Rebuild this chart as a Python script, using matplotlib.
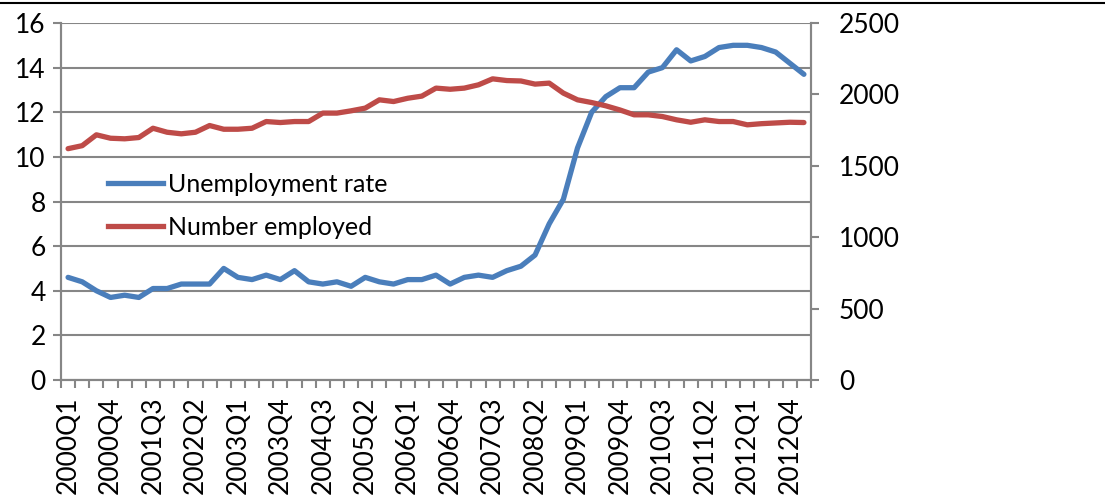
import numpy as np
import matplotlib
matplotlib.use("Agg")
import matplotlib.pyplot as plt
from matplotlib.lines import Line2D

plt.rcParams['font.family'] = ['Lato', 'DejaVu Sans']

# quarters 2000Q1 .. 2013Q1
quarters = [f"{y}Q{q}" for y in range(2000, 2014) for q in range(1, 5)][:53]

unemployment = [4.6, 4.4, 4.0, 3.7, 3.8, 3.7, 4.1, 4.1, 4.3, 4.3,
                4.3, 5.0, 4.6, 4.5, 4.7, 4.5, 4.9, 4.4, 4.3, 4.4,
                4.2, 4.6, 4.4, 4.3, 4.5, 4.5, 4.7, 4.3, 4.6, 4.7,
                4.6, 4.9, 5.1, 5.6, 7.0, 8.1, 10.4, 12.0, 12.7, 13.1,
                13.1, 13.8, 14.0, 14.8, 14.3, 14.5, 14.9, 15.0, 15.0, 14.9,
                14.7, 14.2, 13.7]

employed = [1620, 1641, 1717, 1693, 1689, 1698, 1763, 1735, 1724, 1735,
            1782, 1756, 1756, 1763, 1810, 1803, 1810, 1810, 1869, 1869,
            1885, 1904, 1962, 1950, 1973, 1988, 2044, 2036, 2044, 2067,
            2109, 2097, 2094, 2072, 2079, 2009, 1962, 1943, 1920, 1891,
            1857, 1857, 1845, 1822, 1805, 1822, 1810, 1810, 1787, 1795,
            1800, 1805, 1803]

blue = '#4a7ebb'
red = '#be4b48'
grey = '#868686'
fs = 19

fig = plt.figure(figsize=(11.05, 5.0), dpi=100)
ax = fig.add_axes([61/1105, 0.24, 750/1105, 0.714])
ax2 = ax.twinx()

x = np.arange(len(quarters))
ax.plot(x, unemployment, color=blue, lw=3.8, solid_capstyle='round', zorder=3)
ax2.plot(x, employed, color=red, lw=3.8, solid_capstyle='round', zorder=3)

ax.set_xlim(-0.5, len(quarters) - 0.5)
ax.set_ylim(0, 16)
ax.set_yticks(range(0, 17, 2))
ax2.set_ylim(0, 2500)
ax2.set_yticks(range(0, 2501, 500))

ax.yaxis.grid(True, color=grey, lw=1.5)
ax.set_axisbelow(True)

ax.set_xticks(x[::3])
ax.set_xticklabels(quarters[::3], rotation=90, fontsize=fs)
ax.set_xticks(np.arange(-0.5, len(quarters)), minor=True)
ax.tick_params(axis='x', which='major', length=0, pad=12)
ax.tick_params(axis='x', which='minor', length=6, width=1.5, color=grey)
ax.tick_params(axis='y', length=6, width=1.5, color=grey, labelsize=fs, pad=5)
ax2.tick_params(axis='y', length=6, width=1.5, color=grey, labelsize=fs, pad=14)

for a in (ax, ax2):
    a.spines['top'].set_visible(False)
    for s in ('left', 'right', 'bottom'):
        a.spines[s].set_color(grey)
        a.spines[s].set_linewidth(1.5)

handles = [Line2D([], [], color=blue, lw=3.8),
           Line2D([], [], color=red, lw=3.8)]
ax.legend(handles, ['Unemployment rate', 'Number employed'],
          loc='upper left', bbox_to_anchor=(0.062, 0.58), frameon=False,
          fontsize=18, handlelength=2.2, handletextpad=0.2,
          labelspacing=0.8, borderaxespad=0, borderpad=0)

fig.add_artist(Line2D([0, 1], [1 - 2.5/500, 1 - 2.5/500], color='black', lw=1.5,
                      transform=fig.transFigure))

fig.savefig('out.png', dpi=100)
